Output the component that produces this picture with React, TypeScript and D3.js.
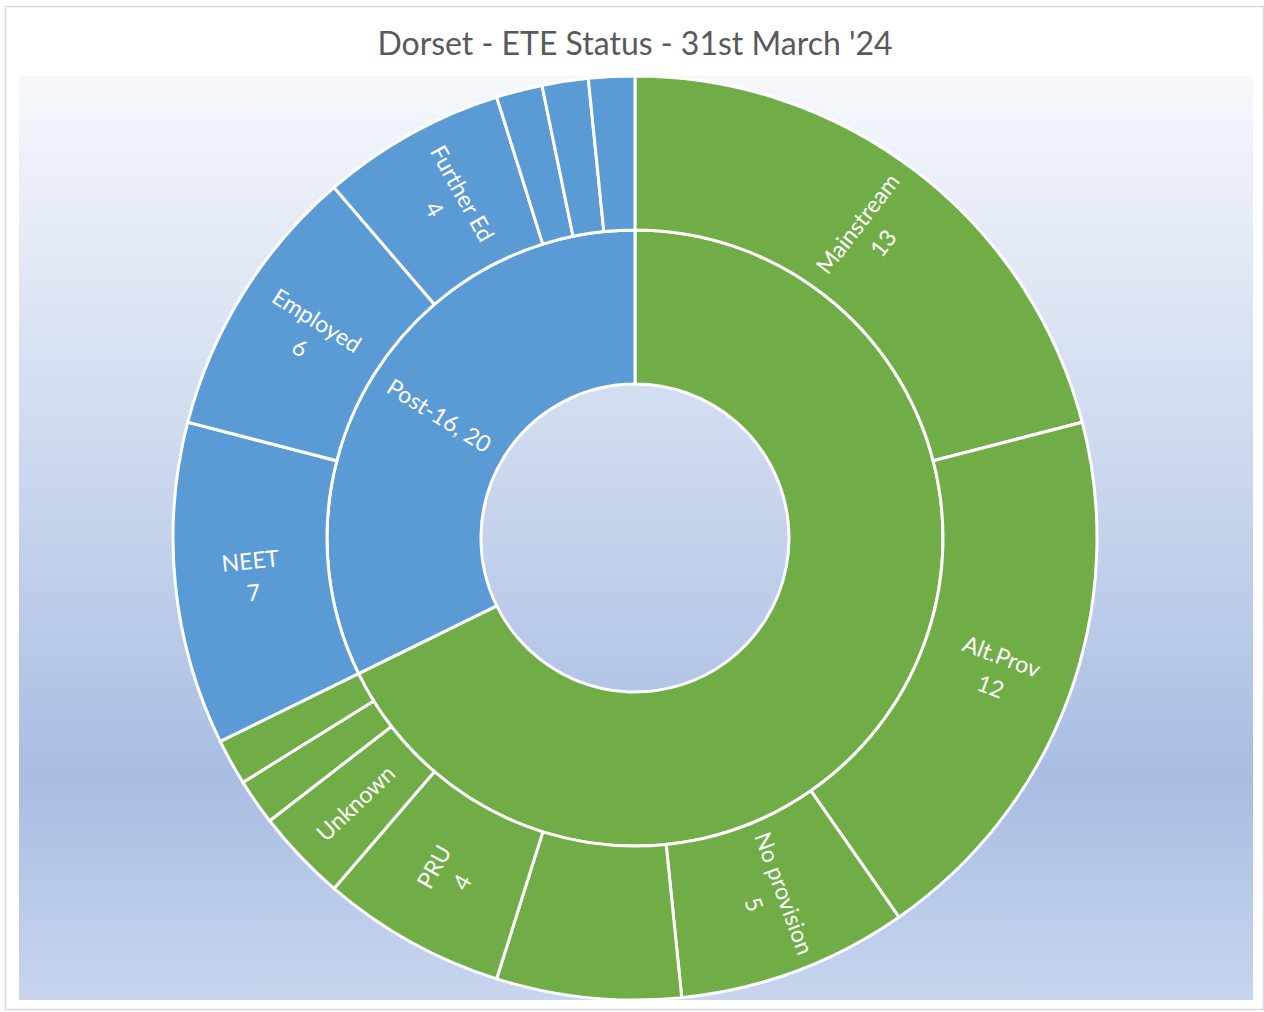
import React, { useEffect, useRef } from 'react';
import * as d3 from 'd3';

// ring 1 (inner)
const groupNames = ['', 'Post-16'];
const groupColors = ['#70ad47', '#5b9bd5'];

// ring 2 (outer) - school age group
const schoolNames = ['Mainstream', 'Alt.Prov', 'No provision', '', 'PRU', 'Unknown', '', ''];
const schoolValues = [13, 12, 5, 4, 4, 2, 1, 1];

// ring 2 (outer) - post-16 group
const post16Names = ['NEET', 'Employed', 'Further Ed', '', '', ''];
const post16Values = [7, 6, 4, 1, 1, 1];

const title = "Dorset - ETE Status - 31st March '24";

const width = 1264;
const height = 1012;
const cx = 635;
const cy = 538;
const ringWidth = 154;

const font = 'Lato, "Open Sans", sans-serif';

type Node = { name: string; value?: number; children?: Node[]; color?: string };

const App = () => {
  const svgRef = useRef<SVGSVGElement>(null);

  useEffect(() => {
    const svg = d3.select(svgRef.current);
    svg.selectAll('*').remove();

    const defs = svg.append('defs');
    const grad = defs.append('linearGradient')
      .attr('id', 'bg')
      .attr('x1', 0).attr('y1', 0).attr('x2', 0).attr('y2', 1);
    grad.append('stop').attr('offset', '0%').attr('stop-color', '#f6f8fc');
    grad.append('stop').attr('offset', '76%').attr('stop-color', '#a9bde3');
    grad.append('stop').attr('offset', '100%').attr('stop-color', '#c7d5ee');

    // chart border + plot area
    svg.append('rect')
      .attr('x', 5.5).attr('y', 6.5)
      .attr('width', 1258).attr('height', 1003)
      .attr('fill', '#fff')
      .attr('stroke', '#d9d9d9')
      .attr('stroke-width', 1.5);

    svg.append('rect')
      .attr('x', 19).attr('y', 76)
      .attr('width', 1234).attr('height', 924)
      .attr('fill', 'url(#bg)');

    svg.append('text')
      .attr('x', cx).attr('y', 55)
      .attr('text-anchor', 'middle')
      .attr('font-family', font)
      .attr('font-size', 32)
      .attr('fill', '#595959')
      .text(title);

    const data: Node = {
      name: 'root',
      children: [
        {
          name: groupNames[0],
          color: groupColors[0],
          children: schoolNames.map((n, i) => ({ name: n, value: schoolValues[i] }))
        },
        {
          name: groupNames[1],
          color: groupColors[1],
          children: post16Names.map((n, i) => ({ name: n, value: post16Values[i] }))
        }
      ]
    };

    const root = d3.hierarchy<Node>(data).sum(d => d.value || 0);
    d3.partition<Node>().size([2 * Math.PI, 3])(root);

    const r = d3.scaleLinear().domain([0, 3]).range([0, ringWidth * 3]);

    const arc = d3.arc<any>()
      .startAngle(d => d.x0)
      .endAngle(d => d.x1)
      .innerRadius(d => r(d.y0))
      .outerRadius(d => r(d.y1));

    const g = svg.append('g').attr('transform', `translate(${cx},${cy})`);

    const nodes = root.descendants().filter(d => d.depth > 0);

    g.selectAll('path')
      .data(nodes)
      .enter()
      .append('path')
      .attr('d', arc as any)
      .attr('fill', (d: any) => (d.depth === 1 ? d.data.color : d.parent.data.color))
      .attr('stroke', '#fff')
      .attr('stroke-width', 3);

    const labelled = nodes.filter(d => d.data.name !== '');
    const labels = g.selectAll('g.lbl')
      .data(labelled)
      .enter()
      .append('g')
      .attr('class', 'lbl')
      .attr('transform', (d: any) => {
        const a = (d.x0 + d.x1) / 2;
        const rr = r((d.y0 + d.y1) / 2);
        const deg = (a * 180) / Math.PI;
        const rot = deg < 180 ? deg - 90 : deg - 270;
        return `translate(${Math.sin(a) * rr},${-Math.cos(a) * rr}) rotate(${rot})`;
      });

    labels.each(function (d: any) {
      const t = d3.select(this).append('text')
        .attr('text-anchor', 'middle')
        .attr('font-family', font)
        .attr('font-size', 23)
        .attr('fill', '#fff');
      // arc length at the label radius: too thin slices only get the name
      const arcLen = (d.x1 - d.x0) * r((d.y0 + d.y1) / 2);
      if (d.depth === 1) {
        t.append('tspan').attr('x', 0).attr('y', 8).text(`${d.data.name}, ${d.value}`);
      } else if (arcLen < 90) {
        t.append('tspan').attr('x', 0).attr('y', 8).text(d.data.name);
      } else {
        t.append('tspan').attr('x', 0).attr('y', -8).text(d.data.name);
        t.append('tspan').attr('x', 0).attr('y', 24).text(d.value);
      }
    });
  }, []);

  return (
    <svg
      ref={svgRef}
      width={width}
      height={height}
      style={{ position: 'absolute', left: 0, top: 0, display: 'block' }}
    />
  );
};

export default App;
